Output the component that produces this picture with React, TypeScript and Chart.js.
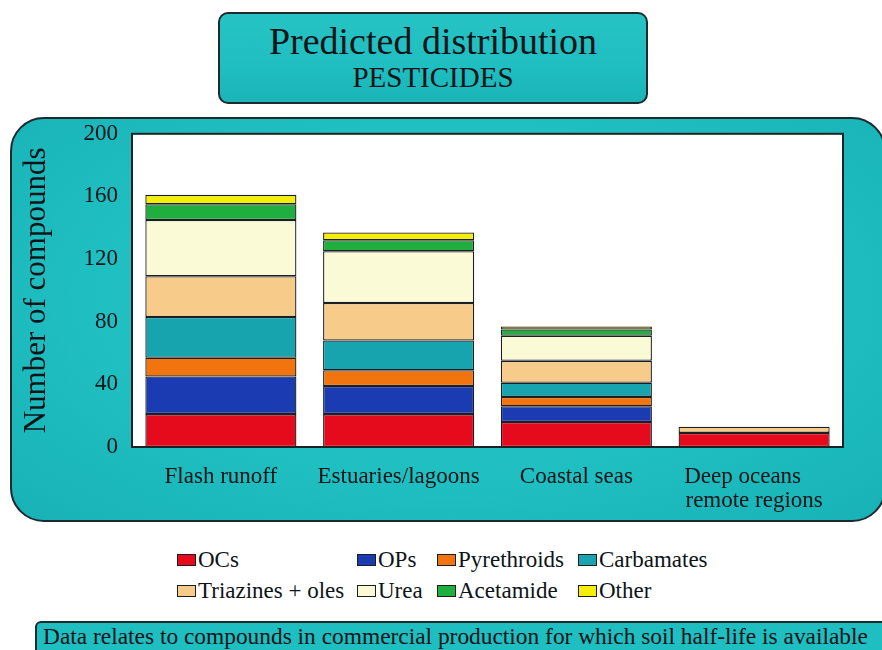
import React, { useEffect, useRef } from "react";
import { Chart, registerables } from "chart.js";

Chart.register(...registerables);

const categories: (string | string[])[] = [
  "Flash runoff",
  "Estuaries/lagoons",
  "Coastal seas",
  ["Deep oceans    ", "remote regions"],
];

const ocs = [21, 21, 16, 9];
const ops = [24, 18, 10, 0];
const pyrethroids = [12, 10, 6, 0];
const carbamates = [26, 19, 9, 0];
const triazines = [26, 24, 14, 4];
const urea = [36, 33, 16, 0];
const acetamide = [10, 7, 4, 0];
const other = [6, 5, 2, 0];

const seriesNames = [
  "OCs",
  "OPs",
  "Pyrethroids",
  "Carbamates",
  "Triazines + oles",
  "Urea",
  "Acetamide",
  "Other",
];
const seriesData = [ocs, ops, pyrethroids, carbamates, triazines, urea, acetamide, other];
const seriesColors = [
  "#e50a1c",
  "#1a3bb2",
  "#f1740f",
  "#17a4ae",
  "#f7cb8a",
  "#fbfad6",
  "#20ae3e",
  "#f4ee08",
];

const yTicks = [0, 40, 80, 120, 160, 200];

const SERIF = "'Liberation Serif', 'Times New Roman', 'DejaVu Serif', serif";
const TEAL = "#1fbec0";
const INK = "#0d1418";

const plotFrame = {
  id: "plotFrame",
  beforeDatasetsDraw(chart: any) {
    const { ctx, chartArea } = chart;
    ctx.save();
    ctx.fillStyle = "#ffffff";
    ctx.fillRect(chartArea.left, chartArea.top, chartArea.right - chartArea.left, chartArea.bottom - chartArea.top);
    ctx.restore();
  },
  afterDatasetsDraw(chart: any) {
    const { ctx, chartArea } = chart;
    ctx.save();
    ctx.strokeStyle = "#1a2226";
    ctx.lineWidth = 2;
    ctx.strokeRect(chartArea.left, chartArea.top, chartArea.right - chartArea.left, chartArea.bottom - chartArea.top);
    ctx.restore();
  },
};

export default function App() {
  const canvasRef = useRef<HTMLCanvasElement | null>(null);

  useEffect(() => {
    if (!canvasRef.current) return;
    const chart = new Chart(canvasRef.current, {
      type: "bar",
      data: {
        labels: categories,
        datasets: seriesNames.map((name, i) => ({
          label: name,
          data: seriesData[i],
          backgroundColor: seriesColors[i],
          borderColor: "#1c1f22",
          borderWidth: 1.3,
          borderSkipped: false,
          barPercentage: 0.85,
          categoryPercentage: 1,
        })),
      },
      options: {
        responsive: false,
        maintainAspectRatio: false,
        animation: false,
        layout: { padding: { top: 3, right: 37, left: 0, bottom: 0 } },
        plugins: {
          legend: { display: false },
          tooltip: { enabled: false },
          title: { display: false },
        },
        scales: {
          x: {
            stacked: true,
            grid: { display: false, drawTicks: false },
            border: { display: false },
            ticks: {
              color: INK,
              font: { family: SERIF, size: 23, lineHeight: 1.05 },
              padding: 18,
              maxRotation: 0,
              autoSkip: false,
            },
            afterFit(scale: any) {
              scale.height = 75;
            },
          },
          y: {
            stacked: true,
            min: 0,
            max: 200,
            afterBuildTicks(scale: any) {
              scale.ticks = yTicks.map((v) => ({ value: v }));
            },
            grid: { display: false, drawTicks: false },
            border: { display: false },
            ticks: {
              color: INK,
              font: { family: SERIF, size: 23 },
              padding: 14,
            },
            title: {
              display: true,
              text: "Number of compounds",
              color: INK,
              font: { family: SERIF, size: 31 },
              padding: { top: 8, bottom: 0 },
            },
            afterFit(scale: any) {
              scale.width = 122;
            },
          },
        },
      },
      plugins: [plotFrame],
    });
    return () => chart.destroy();
  }, []);

  return (
    <div
      style={{
        position: "absolute",
        left: 0,
        top: 0,
        width: 882,
        height: 650,
        overflow: "hidden",
        background: "#ffffff",
        fontFamily: SERIF,
        color: INK,
      }}
    >
      {/* Title box */}
      <div
        style={{
          position: "absolute",
          left: 218,
          top: 12,
          width: 430,
          height: 92,
          boxSizing: "border-box",
          border: "2px solid #1d2a2e",
          borderRadius: 10,
          background: `linear-gradient(180deg, #27c3c4 0%, ${TEAL} 60%, #1bb4b7 100%)`,
          textAlign: "center",
        }}
      >
        <div style={{ position: "absolute", left: 0, right: 0, top: 5, fontSize: 38, lineHeight: "44px", whiteSpace: "nowrap" }}>
          Predicted distribution
        </div>
        <div style={{ position: "absolute", left: 0, right: 0, top: 46, fontSize: 29, lineHeight: "34px", whiteSpace: "nowrap" }}>
          PESTICIDES
        </div>
      </div>

      {/* Chart panel */}
      <div
        style={{
          position: "absolute",
          left: 10,
          top: 117,
          width: 876,
          height: 405,
          boxSizing: "border-box",
          border: "2px solid #1d2a2e",
          borderRadius: 34,
          background: `radial-gradient(ellipse at 50% 45%, #2ac6c6 0%, ${TEAL} 60%, #18b2b6 100%)`,
        }}
      />
      <canvas
        ref={canvasRef}
        width={870}
        height={416}
        style={{ position: "absolute", left: 10, top: 106, width: 870, height: 416 }}
      />

      {/* Legend */}
      {seriesNames.map((name, i) => {
        const cols = [177, 357, 437, 578];
        const rows = [560, 591];
        const col = i % 4;
        const row = i < 4 ? 0 : 1;
        return (
          <div
            key={name}
            style={{
              position: "absolute",
              left: cols[col],
              top: rows[row] - 14,
              height: 28,
              display: "flex",
              alignItems: "center",
              fontSize: 23,
              whiteSpace: "nowrap",
            }}
          >
            <span
              style={{
                display: "inline-block",
                width: 19,
                height: 12,
                boxSizing: "border-box",
                border: "1.3px solid #1c1f22",
                background: seriesColors[i],
                marginRight: 2,
              }}
            />
            <span>{name}</span>
          </div>
        );
      })}

      {/* Bottom note */}
      <div
        style={{
          position: "absolute",
          left: 35,
          top: 621,
          width: 870,
          height: 50,
          boxSizing: "border-box",
          border: "2px solid #1d2a2e",
          borderRadius: 6,
          background: TEAL,
          paddingLeft: 6,
          fontSize: 23.4,
          lineHeight: "27px",
          whiteSpace: "nowrap",
        }}
      >
        Data relates to compounds in commercial production for which soil half-life is available
      </div>
    </div>
  );
}
